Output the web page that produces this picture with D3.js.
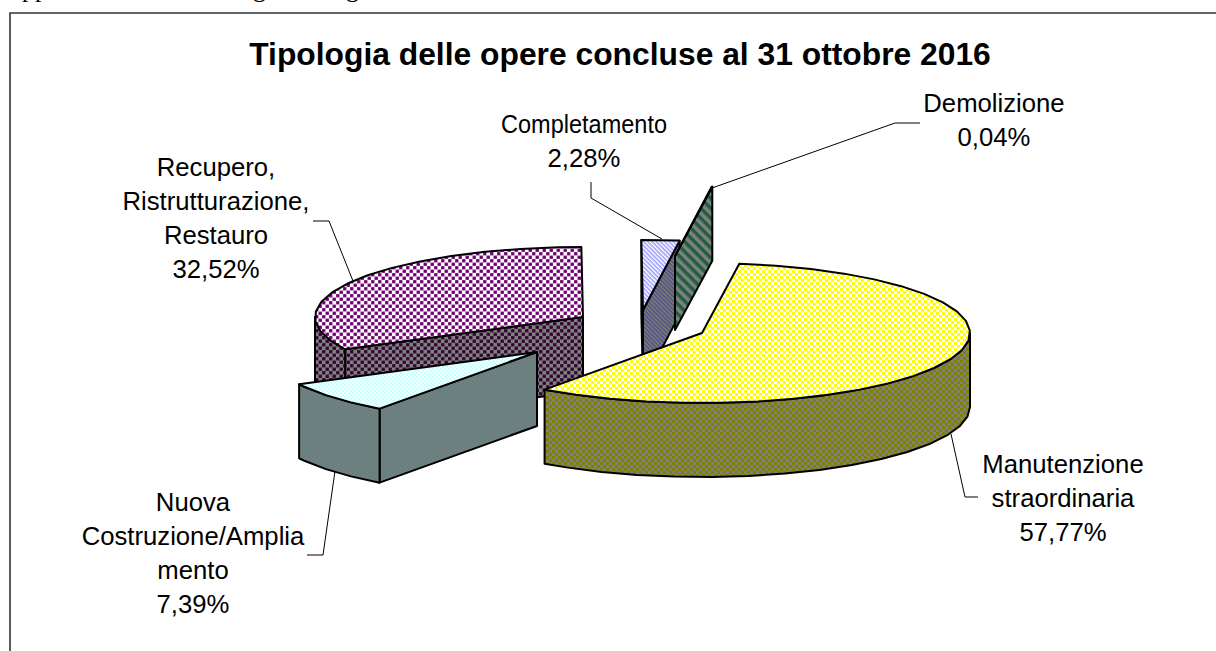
<!DOCTYPE html>
<html>
<head>
<meta charset="utf-8">
<script src="https://cdnjs.cloudflare.com/ajax/libs/d3/7.8.5/d3.min.js"></script>
<style>
html, body { margin: 0; padding: 0; background: #fff; overflow: hidden; }
text { font-family: "Liberation Sans", Arial, sans-serif; fill: #000; }
</style>
</head>
<body>
<div id="chart"></div>
<script>
// values
var categories = ["Manutenzione straordinaria", "Nuova Costruzione/Ampliamento", "Recupero, Ristrutturazione, Restauro", "Completamento", "Demolizione"];
var values = [57.77, 7.39, 32.52, 2.28, 0.04];
var labelLines = [
    ["Manutenzione", "straordinaria", "57,77%"],
    ["Nuova", "Costruzione/Amplia", "mento", "7,39%"],
    ["Recupero,", "Ristrutturazione,", "Restauro", "32,52%"],
    ["Completamento", "2,28%"],
    ["Demolizione", "0,04%"]
];
var chartTitle = "Tipologia delle opere concluse al 31 ottobre 2016";

var width = 1216, height = 651;
var rx = 268, ry = 70, depth = 74;

// layout of the exploded slices: where each apex ended up, and label boxes
var apex = [[702, 333], [537, 352], [583, 317], [643, 310], [675, 256]];
var labelPos = [[1063, 473], [193, 511], [216, 176], [584, 133], [994, 112]];
var leaders = [
    [[951, 434], [965, 497], [978, 497]],
    [[335, 471], [323, 555], [307, 555]],
    [[353, 281], [329, 221], [313, 221]],
    [[662, 239], [591, 198], [591, 182]],
    [[712, 188], [895, 123], [920, 123]]
];
var topFill = ["url(#yellowTop)", "url(#cyanTop)", "url(#purpleTop)", "url(#blueTop)", "url(#greenTop)"];
var sideFill = ["url(#yellowSide)", "url(#cyanSide)", "url(#purpleSide)", "url(#blueSide)", "url(#greenSide)"];
// back to front
var drawOrder = [2, 3, 4, 1, 0];

var svg = d3.select("#chart").append("svg")
    .attr("width", width)
    .attr("height", height)
    .style("display", "block");

var defs = svg.append("defs");

function checker(id, a, b, size) {
    var p = defs.append("pattern").attr("id", id).attr("patternUnits", "userSpaceOnUse")
        .attr("width", size * 2).attr("height", size * 2);
    p.append("rect").attr("width", size * 2).attr("height", size * 2).attr("fill", b);
    p.append("rect").attr("width", size).attr("height", size).attr("fill", a);
    p.append("rect").attr("x", size).attr("y", size).attr("width", size).attr("height", size).attr("fill", a);
}
function dots(id, a, soft, b) {
    var p = defs.append("pattern").attr("id", id).attr("patternUnits", "userSpaceOnUse")
        .attr("width", 7).attr("height", 7);
    p.append("rect").attr("width", 7).attr("height", 7).attr("fill", b);
    [[1.75, 1.75], [5.25, 5.25]].forEach(function(c) {
        p.append("rect").attr("x", c[0] - 1.75).attr("y", c[1] - 1.75).attr("width", 3.5).attr("height", 3.5).attr("fill", soft);
        p.append("circle").attr("cx", c[0]).attr("cy", c[1]).attr("r", 1.3).attr("fill", a);
    });
}
function stripes(id, a, b, size) {
    var p = defs.append("pattern").attr("id", id).attr("patternUnits", "userSpaceOnUse")
        .attr("width", size).attr("height", size)
        .attr("patternTransform", "rotate(45)");
    p.append("rect").attr("width", size).attr("height", size).attr("fill", b);
    p.append("rect").attr("width", size).attr("height", size / 2).attr("fill", a);
}
checker("yellowTop", "#ffff00", "#ffffff", 3);
checker("yellowSide", "#808000", "#808080", 3);
dots("purpleTop", "#660066", "#993399", "#ffffff");
dots("purpleSide", "#330033", "#402040", "#808080");
checker("cyanTop", "#ccffff", "#f0ffff", 2);
checker("cyanSide", "#668080", "#738080", 2);
stripes("blueTop", "#9999ff", "#ffffff", 3);
stripes("blueSide", "#4d4d80", "#808080", 3);
stripes("greenTop", "#1f5f3f", "#a0b0a0", 7);
stripes("greenSide", "#1f5f3f", "#808080", 7);

svg.append("path")
    .attr("d", d3.line()([[10, height], [10, 13], [width, 13]]))
    .attr("fill", "none")
    .attr("stroke", "#333")
    .attr("stroke-width", 1.6);

// bits of the line of page text cut off above the chart
var g0 = svg.append("g");
[["pp", 22], ["g", 253], ["g", 346]].forEach(function(d) {
    g0.append("text").attr("x", d[1]).attr("y", -3)
        .style("font-family", "'Liberation Serif', serif").style("font-size", "26px").text(d[0]);
});

var pie = d3.pie().sort(null).startAngle(8 * Math.PI / 180).endAngle(368 * Math.PI / 180);
var slices = pie(values);

var xScale = d3.scaleLinear().domain([-1, 1]).range([-rx, rx]);
var yScale = d3.scaleLinear().domain([-1, 1]).range([-ry, ry]);
var line = d3.line();

function rim(i, t) {
    return [apex[i][0] + xScale(Math.sin(t)), apex[i][1] + yScale(-Math.cos(t))];
}
function arcPts(i, a, b) {
    var step = 8 * Math.PI / 180;
    var pts = d3.range(a, b, step).map(function(t) { return rim(i, t); });
    pts.push(rim(i, b));
    return pts;
}
function drop(p) { return [p[0], p[1] + depth]; }

var styleShape = function(sel) {
    sel.attr("stroke", "#000").attr("stroke-width", 2).attr("stroke-linejoin", "round");
};

drawOrder.forEach(function(i) {
    var s = slices[i];
    var g = svg.append("g").attr("class", "slice");
    var c = apex[i];

    // cut faces, only the ones turned to the viewer
    [[s.startAngle, s.startAngle - Math.PI / 2], [s.endAngle, s.endAngle + Math.PI / 2]].forEach(function(f) {
        if (Math.cos(f[1]) < -0.001) {
            var p = rim(i, f[0]);
            g.append("path")
                .attr("d", line([c, p, drop(p), drop(c)]) + "Z")
                .attr("fill", sideFill[i])
                .call(styleShape);
        }
    });

    // outer wall, front half of the rim only
    var a = Math.max(s.startAngle, Math.PI / 2), b = Math.min(s.endAngle, 3 * Math.PI / 2);
    if (a < b && s.endAngle <= 2 * Math.PI) {
        var topEdge = arcPts(i, a, b);
        g.append("path")
            .attr("d", line(topEdge.concat(topEdge.map(drop).reverse())) + "Z")
            .attr("fill", sideFill[i])
            .call(styleShape);
    }

    // top face
    g.append("path")
        .attr("d", line([c].concat(arcPts(i, s.startAngle, s.endAngle))) + "Z")
        .attr("fill", topFill[i])
        .call(styleShape);
});

// leader lines
svg.selectAll(".leader")
    .data(leaders)
    .enter().append("path")
    .attr("class", "leader")
    .attr("d", function(d) { return line(d); })
    .attr("fill", "none")
    .attr("stroke", "#000")
    .attr("stroke-width", 1);

// labels
labelLines.forEach(function(lines, i) {
    var t = svg.append("text")
        .attr("text-anchor", "middle")
        .style("font-size", "25.7px");
    lines.forEach(function(l, j) {
        var ts = t.append("tspan")
            .attr("x", labelPos[i][0])
            .attr("y", labelPos[i][1] + j * 34)
            .text(l);
        // this word sits tighter in the original
        if (l === "Completamento") ts.attr("textLength", 166).attr("lengthAdjust", "spacingAndGlyphs");
    });
});

svg.append("text")
    .attr("x", 620)
    .attr("y", 65)
    .attr("text-anchor", "middle")
    .style("font-size", "31.8px")
    .style("font-weight", "bold")
    .text(chartTitle);
</script>
</body>
</html>
